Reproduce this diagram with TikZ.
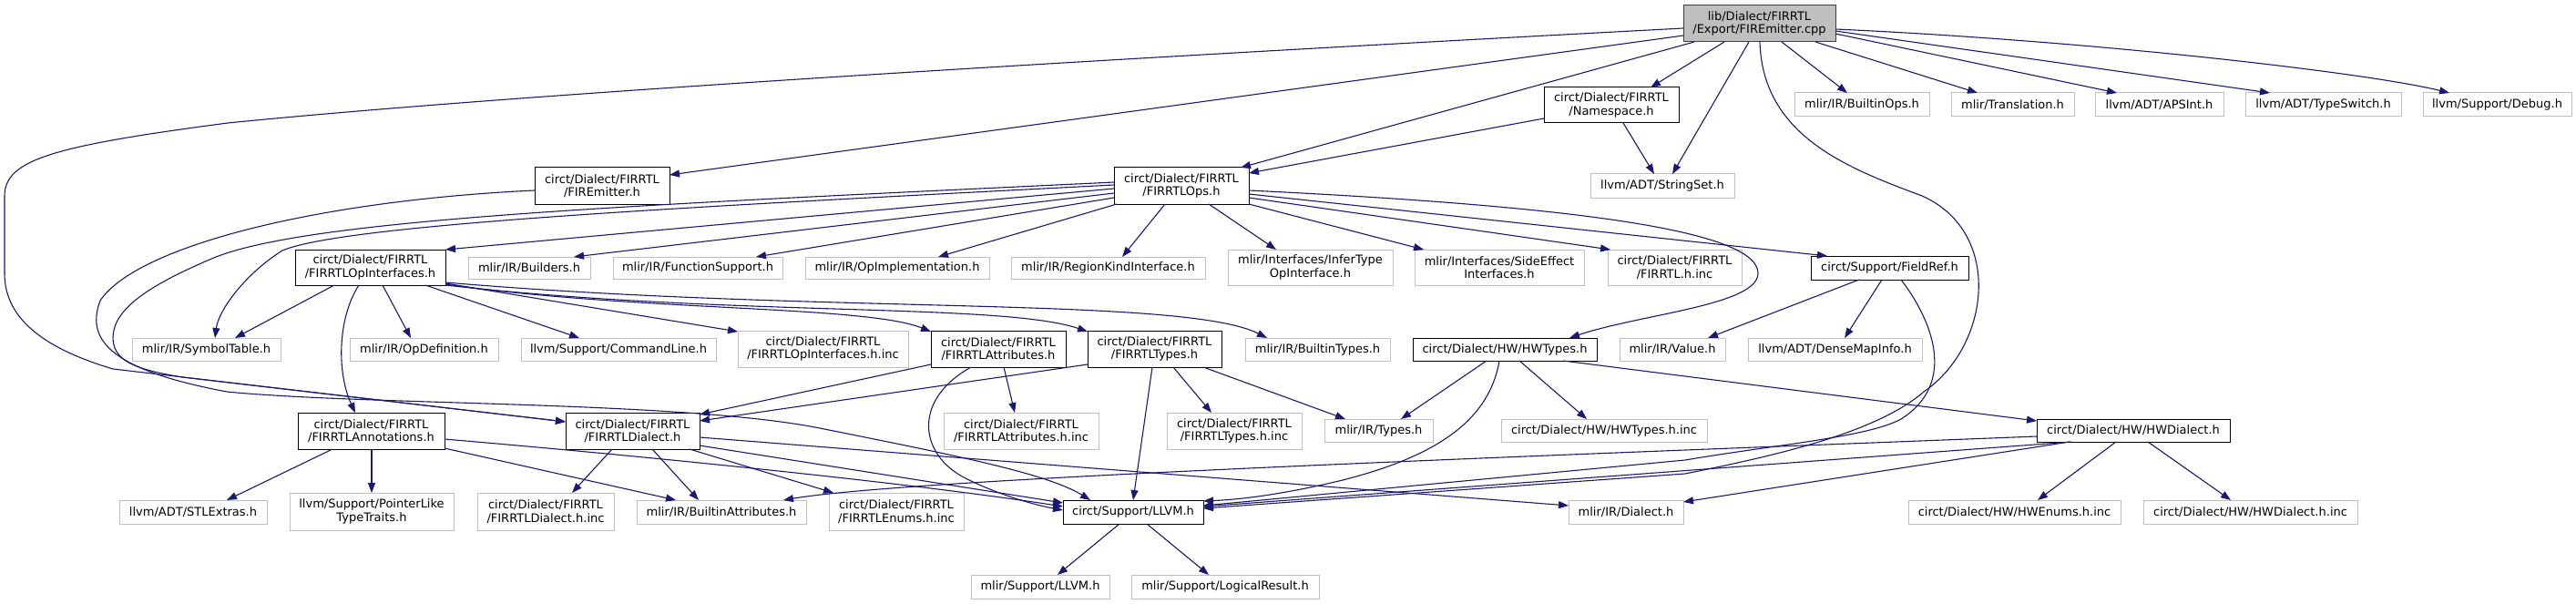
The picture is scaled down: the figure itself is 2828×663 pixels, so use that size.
\documentclass[tikz,border=0pt]{standalone}
\usepackage{fontspec}
\setmainfont{DejaVu Sans}
\usetikzlibrary{arrows.meta}
\definecolor{edgec}{HTML}{191970}
\definecolor{gline}{HTML}{BFBFBF}
\definecolor{rootfill}{HTML}{BFBFBF}
\definecolor{rootline}{HTML}{404040}
\tikzset{
 base/.style={rectangle, inner sep=0pt, outer sep=0pt, align=center, font=\fontsize{13}{14.5}\selectfont, fill=white, line width=1pt},
 doc/.style={base, draw=black},
 undoc/.style={base, draw=gline},
 rootn/.style={base, draw=rootline, fill=rootfill},
 e/.style={draw=edgec, line width=1.1pt, -{Triangle[length=11pt,width=8pt]}},
}
\newcommand\nd[7]{\node[#6, minimum width=#4pt, minimum height=#5pt] (#1) at ({#2+#4/2},{#3+#5/2}) {#7};}
\newcommand\anc[3]{([xshift=#2pt,yshift=-#3pt]#1.north west)}
\begin{document}
\begin{tikzpicture}[x=1pt,y=-1pt]
\fill[white] (0,0) rectangle (2828,663);
\useasboundingbox (0,0) rectangle (2828,663);
% nodes
\nd{root}{1848}{6}{167}{40}{rootn}{lib/Dialect/FIRRTL\\/Export/FIREmitter.cpp}
\nd{ns}{1695}{96}{148}{39}{doc}{circt/Dialect/FIRRTL\\/Namespace.h}
\nd{fireh}{587}{184}{148}{40}{doc}{circt/Dialect/FIRRTL\\/FIREmitter.h}
\nd{ops}{1223}{184}{148}{40}{doc}{circt/Dialect/FIRRTL\\/FIRRTLOps.h}
\nd{stringset}{1746}{191}{158}{26}{undoc}{llvm/ADT/StringSet.h}
\nd{builtinops}{1970}{102}{148}{26}{undoc}{mlir/IR/BuiltinOps.h}
\nd{translation}{2142}{102}{135}{26}{undoc}{mlir/Translation.h}
\nd{apsint}{2300}{102}{141}{26}{undoc}{llvm/ADT/APSInt.h}
\nd{typeswitch}{2465}{102}{171}{26}{undoc}{llvm/ADT/TypeSwitch.h}
\nd{debug}{2660}{102}{163}{26}{undoc}{llvm/Support/Debug.h}
\nd{opif}{324}{274}{165}{39}{doc}{circt/Dialect/FIRRTL\\/FIRRTLOpInterfaces.h}
\nd{builders}{514}{282}{134}{24}{undoc}{mlir/IR/Builders.h}
\nd{funcsupp}{673}{282}{186}{24}{undoc}{mlir/IR/FunctionSupport.h}
\nd{opimpl}{884}{282}{202}{24}{undoc}{mlir/IR/OpImplementation.h}
\nd{regionkind}{1110}{282}{213}{24}{undoc}{mlir/IR/RegionKindInterface.h}
\nd{infertype}{1348}{274}{181}{39}{undoc}{mlir/Interfaces/InferType\\OpInterface.h}
\nd{sideeffect}{1553}{274}{186}{39}{undoc}{mlir/Interfaces/SideEffect\\Interfaces.h}
\nd{firrtlinc}{1765}{274}{147}{39}{undoc}{circt/Dialect/FIRRTL\\/FIRRTL.h.inc}
\nd{fieldref}{1988}{281}{173}{26}{doc}{circt/Support/FieldRef.h}
\nd{symtab}{145}{371}{163}{25}{undoc}{mlir/IR/SymbolTable.h}
\nd{opdef}{384}{371}{163}{25}{undoc}{mlir/IR/OpDefinition.h}
\nd{cmdline}{572}{371}{214}{25}{undoc}{llvm/Support/CommandLine.h}
\nd{opifinc}{810}{363}{187}{40}{undoc}{circt/Dialect/FIRRTL\\/FIRRTLOpInterfaces.h.inc}
\nd{attrs}{1022}{363}{148}{40}{doc}{circt/Dialect/FIRRTL\\/FIRRTLAttributes.h}
\nd{types}{1194}{363}{147}{40}{doc}{circt/Dialect/FIRRTL\\/FIRRTLTypes.h}
\nd{builtintypes}{1367}{371}{159}{25}{undoc}{mlir/IR/BuiltinTypes.h}
\nd{hwtypes}{1551}{371}{202}{25}{doc}{circt/Dialect/HW/HWTypes.h}
\nd{value}{1778}{371}{116}{25}{undoc}{mlir/IR/Value.h}
\nd{densemap}{1919}{371}{191}{25}{undoc}{llvm/ADT/DenseMapInfo.h}
\nd{annot}{327}{453}{161}{40}{doc}{circt/Dialect/FIRRTL\\/FIRRTLAnnotations.h}
\nd{dialect}{621}{453}{147}{40}{doc}{circt/Dialect/FIRRTL\\/FIRRTLDialect.h}
\nd{attrsinc}{1036}{453}{170}{40}{undoc}{circt/Dialect/FIRRTL\\/FIRRTLAttributes.h.inc}
\nd{typesinc}{1281}{453}{148}{40}{undoc}{circt/Dialect/FIRRTL\\/FIRRTLTypes.h.inc}
\nd{irtypes}{1454}{460}{119}{25}{undoc}{mlir/IR/Types.h}
\nd{hwtypesinc}{1648}{460}{226}{25}{undoc}{circt/Dialect/HW/HWTypes.h.inc}
\nd{hwdialect}{2236}{460}{212}{25}{doc}{circt/Dialect/HW/HWDialect.h}
\nd{stlextras}{131}{549}{162}{26}{undoc}{llvm/ADT/STLExtras.h}
\nd{ptrlike}{318}{541}{180}{41}{undoc}{llvm/Support/PointerLike\\TypeTraits.h}
\nd{dialectinc}{524}{541}{150}{41}{undoc}{circt/Dialect/FIRRTL\\/FIRRTLDialect.h.inc}
\nd{builtinattrs}{699}{549}{186}{26}{undoc}{mlir/IR/BuiltinAttributes.h}
\nd{enumsinc}{910}{541}{148}{41}{undoc}{circt/Dialect/FIRRTL\\/FIRRTLEnums.h.inc}
\nd{cllvm}{1167}{549}{154}{26}{doc}{circt/Support/LLVM.h}
\nd{irdialect}{1722}{549}{126}{26}{undoc}{mlir/IR/Dialect.h}
\nd{hwenumsinc}{2095}{549}{233}{26}{undoc}{circt/Dialect/HW/HWEnums.h.inc}
\nd{hwdialectinc}{2353}{549}{235}{26}{undoc}{circt/Dialect/HW/HWDialect.h.inc}
\nd{mllvm}{1066}{631}{152}{26}{undoc}{mlir/Support/LLVM.h}
\nd{logical}{1242}{631}{206}{26}{undoc}{mlir/Support/LogicalResult.h}
% edges from root
\draw[e] \anc{root}{0}{33} -- \anc{fireh}{148}{8};
\draw[e] \anc{root}{45}{40} -- \anc{ns}{117}{0};
\draw[e] \anc{root}{12}{40} -- \anc{ops}{139}{0};
\draw[e] \anc{root}{72}{40} -- \anc{stringset}{90}{0};
\draw[e] \anc{root}{108}{40} -- \anc{builtinops}{58}{0};
\draw[e] \anc{root}{145}{40} -- \anc{translation}{29}{0};
\draw[e] \anc{root}{167}{31} -- \anc{apsint}{24}{0};
\draw[e] \anc{root}{167}{28} -- \anc{typeswitch}{27}{0};
\draw[e] \anc{root}{167}{26} .. controls (2300,45) and (2600,80) .. \anc{debug}{29}{0};
\draw[e] \anc{root}{0}{25} .. controls (1300,60) and (600,100) .. (250,135) .. controls (60,160) and (5,175) .. (5,215) -- (5,300) .. controls (5,345) and (40,380) .. (124,405) -- \anc{dialect}{0}{10};
\draw[e] \anc{root}{84}{40} .. controls (1935,150) and (2030,185) .. (2110,215) .. controls (2200,255) and (2185,380) .. (2112,430) .. controls (2060,475) and (1950,500) .. (1850,520) -- \anc{cllvm}{154}{9};
% ns
\draw[e] \anc{ns}{0}{34} -- \anc{ops}{148}{6};
\draw[e] \anc{ns}{87}{39} -- \anc{stringset}{70}{0};
% fireh
\draw[e] \anc{fireh}{0}{25} .. controls (350,220) and (150,270) .. (110,330) .. controls (95,370) and (115,405) .. (249,430) .. controls (400,445) and (750,440) .. (900,470) .. controls (1050,500) and (1150,520) .. \anc{cllvm}{30}{0};
% ops
\draw[e] \anc{ops}{0}{23} -- \anc{opif}{165}{0};
\draw[e] \anc{ops}{0}{28} -- \anc{builders}{116}{0};
\draw[e] \anc{ops}{0}{33} -- \anc{funcsupp}{157}{0};
\draw[e] \anc{ops}{3}{40} -- \anc{opimpl}{146}{0};
\draw[e] \anc{ops}{56}{40} -- \anc{regionkind}{122}{0};
\draw[e] \anc{ops}{104}{40} -- \anc{infertype}{53}{0};
\draw[e] \anc{ops}{148}{40} -- \anc{sideeffect}{10}{0};
\draw[e] \anc{ops}{148}{33} -- \anc{firrtlinc}{3}{0};
\draw[e] \anc{ops}{148}{29} -- \anc{fieldref}{18}{0};
\draw[e] \anc{ops}{148}{25} .. controls (1700,225) and (1930,250) .. (1930,300) .. controls (1930,335) and (1800,345) .. \anc{hwtypes}{172}{0};
\draw[e] \anc{ops}{0}{19} .. controls (800,225) and (380,245) .. (310,275) .. controls (270,300) and (240,340) .. \anc{symtab}{91}{0};
\draw[e] \anc{ops}{0}{16} .. controls (700,225) and (330,240) .. (230,285) .. controls (160,315) and (125,340) .. (124,370) .. controls (124,395) and (145,405) .. (200,414) -- \anc{dialect}{0}{10};
% opif
\draw[e] \anc{opif}{43}{39} -- \anc{symtab}{113}{0};
\draw[e] \anc{opif}{70}{39} .. controls (370,350) and (370,410) .. \anc{annot}{63}{0};
\draw[e] \anc{opif}{96}{39} -- \anc{opdef}{67}{0};
\draw[e] \anc{opif}{143}{39} -- \anc{cmdline}{64}{0};
\draw[e] \anc{opif}{165}{37} -- \anc{opifinc}{0}{1};
\draw[e] \anc{opif}{165}{38} .. controls (700,342) and (950,335) .. \anc{attrs}{0}{1};
\draw[e] \anc{opif}{165}{39} .. controls (800,348) and (1100,332) .. \anc{types}{0}{1};
\draw[e] \anc{opif}{165}{36} .. controls (900,345) and (1300,325) .. \anc{builtintypes}{24}{0};
% fieldref
\draw[e] \anc{fieldref}{53}{26} -- \anc{value}{97}{0};
\draw[e] \anc{fieldref}{78}{26} -- \anc{densemap}{106}{0};
\draw[e] \anc{fieldref}{99}{26} .. controls (2120,350) and (2150,420) .. (2087,460) .. controls (2050,480) and (1950,488) .. (1850,505) -- \anc{cllvm}{154}{6};
% attrs
\draw[e] \anc{attrs}{0}{37} -- \anc{dialect}{147}{2};
\draw[e] \anc{attrs}{80}{40} -- \anc{attrsinc}{78}{0};
\draw[e] \anc{attrs}{44}{40} .. controls (1000,440) and (1010,500) .. (1060,525) .. controls (1100,545) and (1140,555) .. \anc{cllvm}{0}{11};
% types
\draw[e] \anc{types}{0}{37} -- \anc{dialect}{147}{9};
\draw[e] \anc{types}{71}{40} -- \anc{cllvm}{77}{0};
\draw[e] \anc{types}{94}{40} -- \anc{typesinc}{49}{0};
\draw[e] \anc{types}{127}{40} -- \anc{irtypes}{23}{0};
% hwtypes
\draw[e] \anc{hwtypes}{81}{25} -- \anc{irtypes}{84}{0};
\draw[e] \anc{hwtypes}{117}{25} -- \anc{hwtypesinc}{94}{0};
\draw[e] \anc{hwtypes}{95}{25} .. controls (1635,460) and (1580,500) .. (1474,527) .. controls (1420,540) and (1370,548) .. \anc{cllvm}{154}{1};
\draw[e] \anc{hwtypes}{165}{25} -- \anc{hwdialect}{0}{2};
% annot
\draw[e] \anc{annot}{38}{40} -- \anc{stlextras}{118}{0};
\draw[e] \anc{annot}{81}{40} -- \anc{ptrlike}{90}{0};
\draw[e] \anc{annot}{161}{39} -- \anc{builtinattrs}{43}{0};
\draw[e] \anc{annot}{161}{29} .. controls (700,500) and (1000,530) .. \anc{cllvm}{0}{7};
% dialect
\draw[e] \anc{dialect}{51}{40} -- \anc{dialectinc}{104}{0};
\draw[e] \anc{dialect}{95}{40} -- \anc{builtinattrs}{68}{0};
\draw[e] \anc{dialect}{136}{40} -- \anc{enumsinc}{5}{0};
\draw[e] \anc{dialect}{147}{36} -- \anc{cllvm}{0}{3};
\draw[e] \anc{dialect}{147}{27} -- \anc{irdialect}{0}{6};
% hwdialect
\draw[e] \anc{hwdialect}{0}{19} .. controls (1700,500) and (1000,525) .. \anc{builtinattrs}{161}{0};
\draw[e] \anc{hwdialect}{38}{25} -- \anc{cllvm}{154}{7};
\draw[e] \anc{hwdialect}{36}{25} -- \anc{irdialect}{126}{2};
\draw[e] \anc{hwdialect}{87}{25} -- \anc{hwenumsinc}{142}{0};
\draw[e] \anc{hwdialect}{122}{25} -- \anc{hwdialectinc}{96}{0};
% cllvm
\draw[e] \anc{cllvm}{62}{26} -- \anc{mllvm}{95}{0};
\draw[e] \anc{cllvm}{92}{26} -- \anc{logical}{85}{0};
\end{tikzpicture}
\end{document}
